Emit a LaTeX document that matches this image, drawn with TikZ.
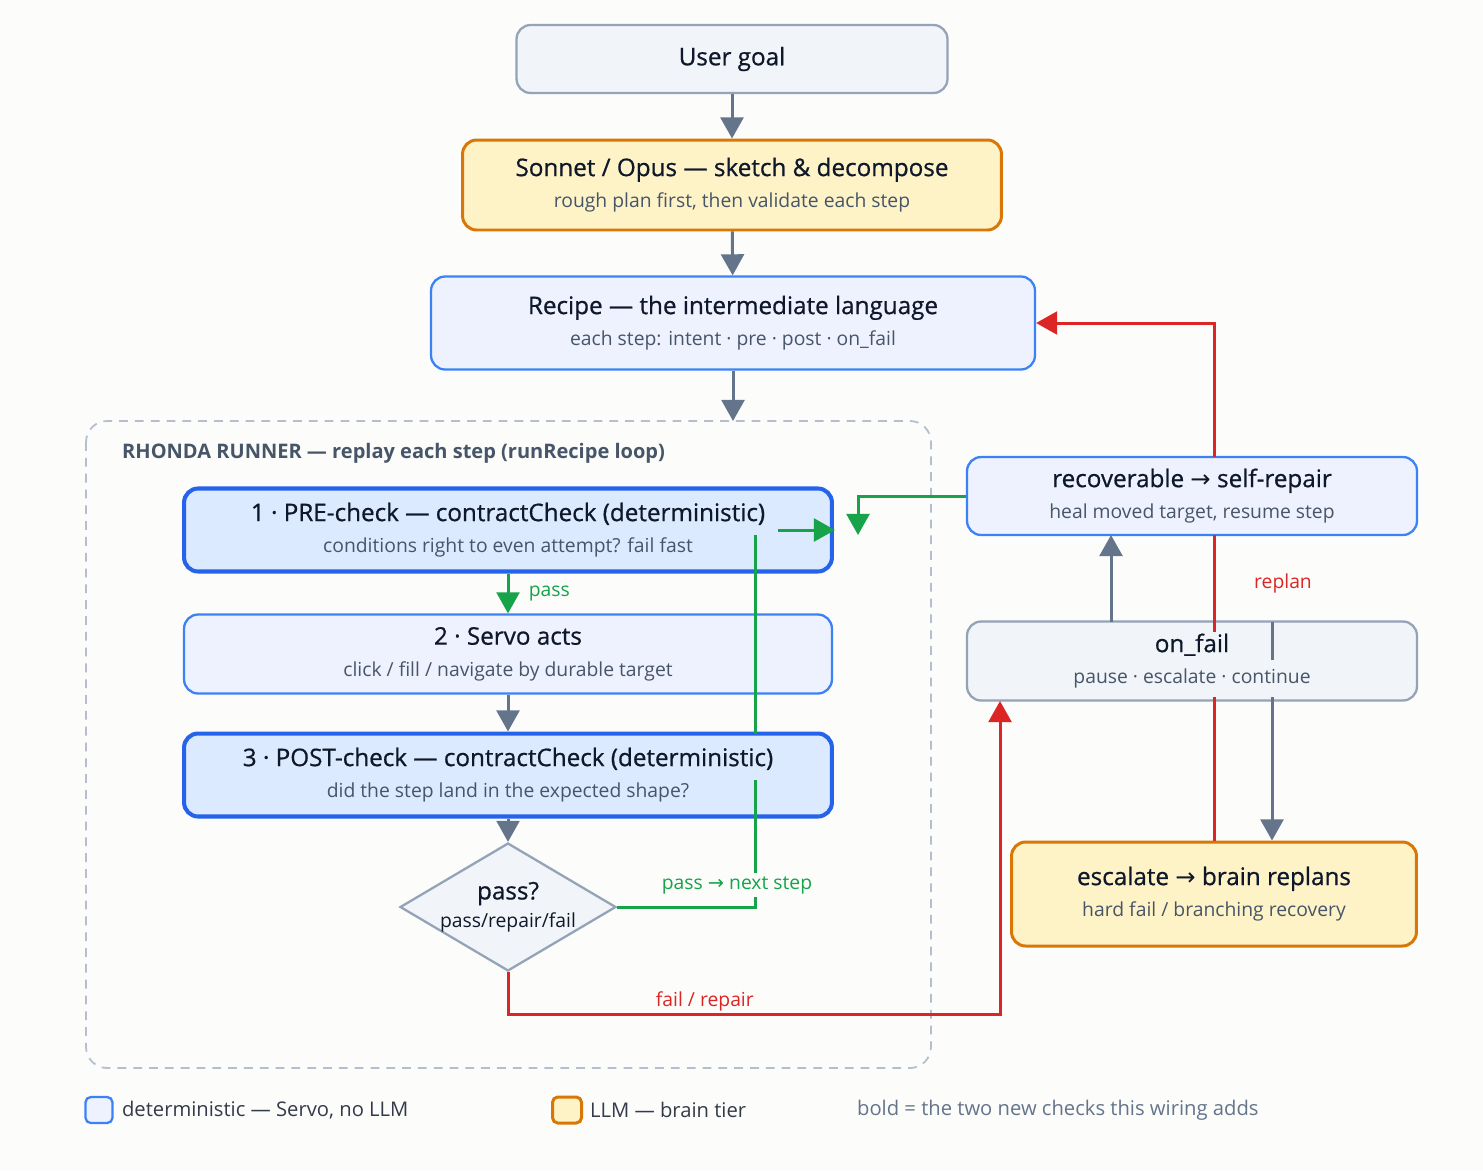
\documentclass[tikz,border=0pt]{standalone}
\usepackage{fontspec}
\setmainfont{Open Sans}
\newfontfamily\semib{Open Sans}[FakeBold=0.7]
\newfontfamily\arrowfont{DejaVu Sans}
\usetikzlibrary{arrows.meta,shapes.geometric,backgrounds}
\definecolor{ink}{HTML}{0F172A}
\definecolor{sub}{HTML}{475569}
\definecolor{grayline}{HTML}{94A3B8}
\definecolor{arrowgray}{HTML}{64748B}
\definecolor{bluefill}{HTML}{EEF2FF}
\definecolor{bluefillb}{HTML}{DBEAFE}
\definecolor{blueline}{HTML}{3B82F6}
\definecolor{bluebold}{HTML}{2563EB}
\definecolor{yellowfill}{HTML}{FEF3C7}
\definecolor{orangeline}{HTML}{D97706}
\definecolor{grayfill}{HTML}{F1F5F9}
\definecolor{okgreen}{HTML}{16A34A}
\definecolor{failred}{HTML}{DC2626}
\definecolor{paper}{RGB}{252,252,250}
\tikzset{
  box/.style={rectangle,rounded corners=8pt,align=center,text=ink,font=\semib\fontsize{13.8}{18}\selectfont,inner sep=0pt},
  neutral/.style={box,fill=grayfill,draw=grayline,line width=1.3pt},
  llm/.style={box,fill=yellowfill,draw=orangeline,line width=1.7pt},
  det/.style={box,fill=bluefill,draw=blueline,line width=1.3pt},
  detbold/.style={box,fill=bluefillb,draw=bluebold,line width=2.3pt},
  flow/.style={draw=arrowgray,line width=1.7pt,-{Triangle[width=13pt,length=12pt]}},
  ok/.style={draw=okgreen,line width=1.7pt,-{Triangle[width=13pt,length=12pt]}},
  bad/.style={draw=failred,line width=1.7pt,-{Triangle[width=13pt,length=12pt]}},
  lbl/.style={font=\fontsize{11}{12}\selectfont,inner sep=1pt},
}
\newcommand{\subl}[1]{\\[0pt]{\rmfamily\fontsize{11}{13}\selectfont\color{sub}#1}}
\newcommand{\ra}{{\arrowfont →}}
\begin{document}
\begin{tikzpicture}[x=0.02cm,y=-0.02cm]
\useasboundingbox[fill=paper] (0,0) rectangle (1483,1170);

% runner frame
\draw[grayline!70,line width=1pt,dash pattern=on 5pt off 4pt,rounded corners=12pt] (86,421) rectangle (931,1068);
\node[anchor=west,font=\fontsize{11.4}{13}\selectfont\bfseries,text=sub] (runner) at (116,453) {RHONDA RUNNER — replay each step (runRecipe loop)};

% main column
\node[neutral,minimum width=8.62cm,minimum height=1.36cm] (goal) at (732,59) {User goal};
\node[llm,minimum width=10.78cm,minimum height=1.8cm] (plan) at (732,185) {Sonnet / Opus — sketch \& decompose\subl{rough plan first, then validate each step}};
\node[det,minimum width=12.08cm,minimum height=1.86cm] (recipe) at (733,323) {Recipe — the intermediate language\subl{each step: intent · pre · post · on\_fail}};
\node[detbold,minimum width=12.96cm,minimum height=1.66cm] (pre) at (508,530) {1 · PRE-check — contractCheck (deterministic)\subl{conditions right to even attempt? fail fast}};
\node[det,minimum width=12.96cm,minimum height=1.58cm] (servo) at (508,654) {2 · Servo acts\subl{click / fill / navigate by durable target}};
\node[detbold,minimum width=12.96cm,minimum height=1.66cm] (post) at (508,775) {3 · POST-check — contractCheck (deterministic)\subl{did the step land in the expected shape?}};
\node[diamond,fill=grayfill,draw=grayline,line width=1.3pt,shape aspect=1.69,minimum width=4.32cm,minimum height=2.56cm,inner sep=0pt] (gate) at (508,907) {};
\node[align=center,text=ink,font=\semib\fontsize{13.8}{15}\selectfont,inner sep=0pt] (gatetext) at (gate.center) {pass?\\[1pt]{\rmfamily\fontsize{11}{13}\selectfont pass/repair/fail}};

% right column
\node[det,minimum width=9cm,minimum height=1.56cm] (repair) at (1192,496) {recoverable \ra{} self-repair\subl{heal moved target, resume step}};
\node[neutral,minimum width=9cm,minimum height=1.58cm] (onfail) at (1192,661) {on\_fail\subl{pause · escalate · continue}};
\node[llm,minimum width=8.1cm,minimum height=2.08cm] (brain) at (1214,894) {escalate \ra{} brain replans\subl{hard fail / branching recovery}};

\coordinate (nextin) at (835,530);
\coordinate (healin) at (858,535);

% connectors
\draw[flow] (goal) -- (plan);
\draw[flow] (plan) -- (recipe);
\draw[flow] (recipe) -- (733,421);
\draw[ok] (pre) -- node[right,lbl,text=okgreen,xshift=10pt] {pass} (servo);
\draw[flow] (servo) -- (post);
\draw[flow] (post) -- (gate);
\draw[okgreen,line width=1.7pt] (gate.east) -| (755,780);
\node[lbl,text=okgreen,fill=paper,inner sep=2pt] (nextlbl) at (737,885) {pass \ra{} next step};
\draw[okgreen,line width=1.7pt] (755,734) -- (755,535);
\draw[ok] (778,530) -- (nextin);
\draw[ok] (repair.west) -| (healin);
\draw[bad] (gate.south) |- node[pos=0.7,above,lbl,text=failred] {fail / repair} (1000,1014) -- (1000,701);
\draw[flow] (1111,622) -- (1111,535);
\draw[arrowgray,line width=1.7pt] (1272,622) -- (1272,660);
\draw[flow] (1272,697) -- (brain.north -| 1272,0);
\draw[bad] (1214,457) |- (recipe.east);
\draw[failred,line width=1.7pt] (1214,535) -- (1214,632);
\node[lbl,text=failred] (replanlbl) at (1283,583) {replan};
\draw[failred,line width=1.7pt] (1214,697) -- (brain.north);

% legend
\node[det,minimum width=0.54cm,minimum height=0.52cm,rounded corners=3pt] (legdet) at (99,1110) {};
\node[anchor=west,lbl,font=\fontsize{11.5}{13}\selectfont,text=ink!85] (legdettext) at (120,1110) {deterministic — Servo, no LLM};
\node[llm,minimum width=0.58cm,minimum height=0.52cm,rounded corners=3pt] (legllm) at (567,1110) {};
\node[anchor=west,lbl,font=\fontsize{11.5}{13}\selectfont,text=ink!85] (legllmtext) at (588,1110) {LLM — brain tier};
\node[anchor=west,lbl,font=\fontsize{11.5}{13}\selectfont,text=arrowgray] (legnote) at (855,1110) {bold = the two new checks this wiring adds};
\end{tikzpicture}
\end{document}
